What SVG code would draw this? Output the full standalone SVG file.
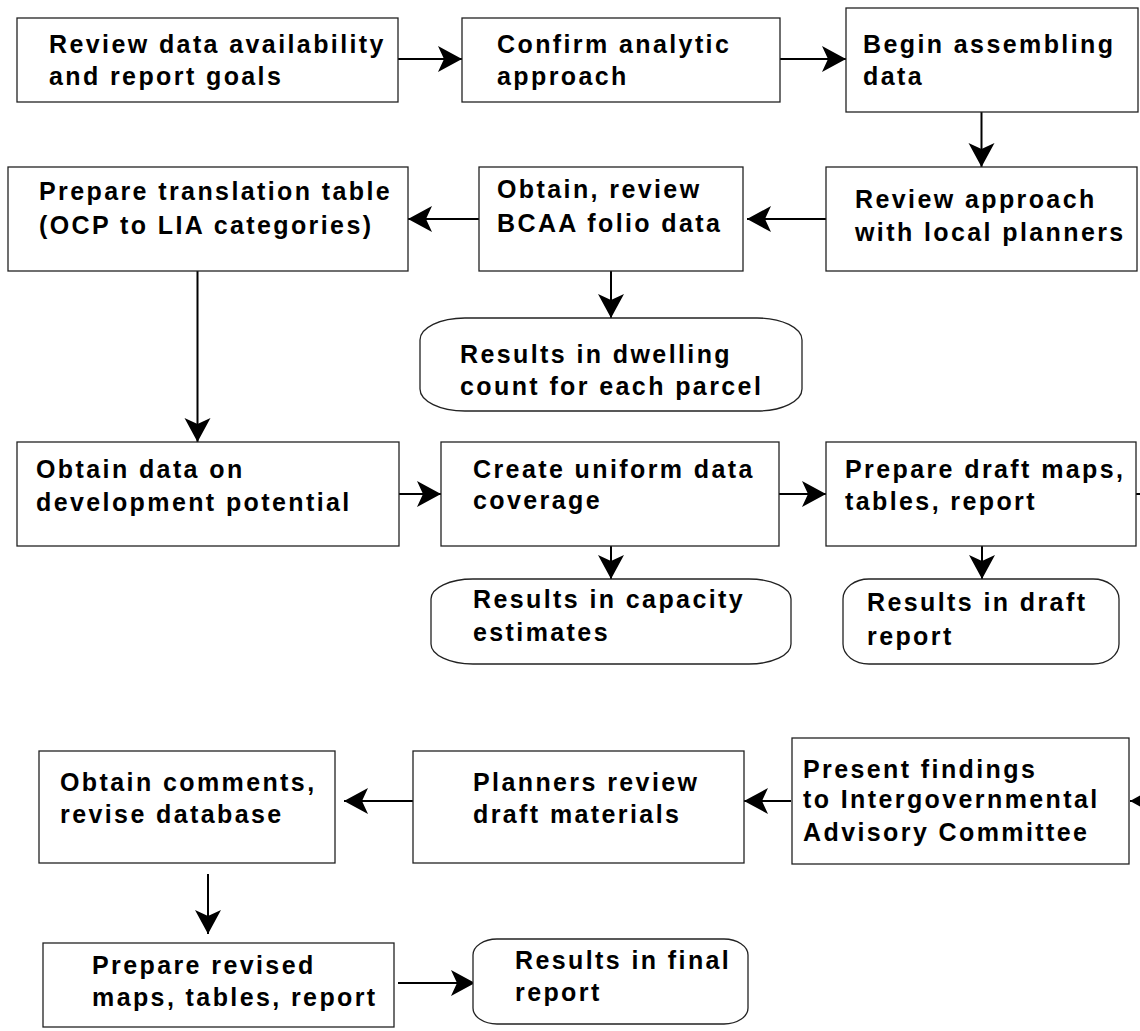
<svg xmlns="http://www.w3.org/2000/svg" width="1140" height="1031" viewBox="0 0 1140 1031">
<style>
.box{fill:#fff;stroke:#222;stroke-width:1.3}
.t{font-family:"Liberation Sans",Arial,sans-serif;font-weight:bold;font-size:25px;letter-spacing:2.4px;fill:#000}
.c{stroke:#000;stroke-width:2;fill:none}
</style>
<defs>
<marker id="ah" markerUnits="userSpaceOnUse" viewBox="-25 -14 26 28" refX="0" refY="0" markerWidth="26" markerHeight="28" orient="auto">
<path d="M0,0 L-24,-13 L-18,0 L-24,13 Z" fill="#000"/>
</marker>
</defs>
<rect width="1140" height="1031" fill="#fff"/>
<g id="connectors">
<line class="c" x1="398" y1="59" x2="462" y2="59" marker-end="url(#ah)"/>
<line class="c" x1="780" y1="59" x2="846" y2="59" marker-end="url(#ah)"/>
<line class="c" x1="981.5" y1="112" x2="981.5" y2="167" marker-end="url(#ah)"/>
<line class="c" x1="826" y1="219" x2="747" y2="219" marker-end="url(#ah)"/>
<line class="c" x1="479" y1="219" x2="408" y2="219" marker-end="url(#ah)"/>
<line class="c" x1="611" y1="271" x2="611" y2="318" marker-end="url(#ah)"/>
<line class="c" x1="197.5" y1="271" x2="197.5" y2="442" marker-end="url(#ah)"/>
<line class="c" x1="399" y1="494" x2="441" y2="494" marker-end="url(#ah)"/>
<line class="c" x1="779" y1="494" x2="826" y2="494" marker-end="url(#ah)"/>
<line class="c" x1="611" y1="546" x2="611" y2="579" marker-end="url(#ah)"/>
<line class="c" x1="982" y1="546" x2="982" y2="579" marker-end="url(#ah)"/>
<line class="c" x1="1136" y1="494" x2="1141" y2="494"/>
<line class="c" x1="1170" y1="801" x2="1130" y2="801" marker-end="url(#ah)"/>
<line class="c" x1="791" y1="801" x2="744" y2="801" marker-end="url(#ah)"/>
<line class="c" x1="413" y1="801" x2="344" y2="801" marker-end="url(#ah)"/>
<line class="c" x1="208" y1="874" x2="208" y2="934" marker-end="url(#ah)"/>
<line class="c" x1="398" y1="983" x2="475" y2="983" marker-end="url(#ah)"/>
</g>
<g id="n1"><rect class="box" x="17" y="18" width="381" height="84"/>
<text class="t" x="49" y="53">Review data availability</text><text class="t" x="49" y="85">and report goals</text></g>
<g id="n2"><rect class="box" x="462" y="18" width="318" height="84"/>
<text class="t" x="497" y="53">Confirm analytic</text><text class="t" x="497" y="85">approach</text></g>
<g id="n3"><rect class="box" x="846" y="8" width="292" height="104"/>
<text class="t" x="863" y="53">Begin assembling</text><text class="t" x="863" y="85">data</text></g>
<g id="n4"><rect class="box" x="826" y="167" width="311" height="104"/>
<text class="t" x="855" y="208">Review approach</text><text class="t" x="855" y="241">with local planners</text></g>
<g id="n5"><rect class="box" x="479" y="167" width="264" height="104"/>
<text class="t" x="497" y="198">Obtain, review</text><text class="t" x="497" y="232">BCAA folio data</text></g>
<g id="n6"><rect class="box" x="8" y="167" width="400" height="104"/>
<text class="t" x="39" y="200">Prepare translation table</text><text class="t" x="39" y="234">(OCP to LIA categories)</text></g>
<g id="n7"><rect class="box" x="420" y="318" width="382" height="93" rx="45" ry="22"/>
<text class="t" x="460" y="363">Results in dwelling</text><text class="t" x="460" y="395">count for each parcel</text></g>
<g id="n8"><rect class="box" x="17" y="442" width="382" height="104"/>
<text class="t" x="36" y="478">Obtain data on</text><text class="t" x="36" y="511">development potential</text></g>
<g id="n9"><rect class="box" x="441" y="442" width="338" height="104"/>
<text class="t" x="473" y="478">Create uniform data</text><text class="t" x="473" y="509">coverage</text></g>
<g id="n10"><rect class="box" x="826" y="442" width="310" height="104"/>
<text class="t" x="845" y="478">Prepare draft maps,</text><text class="t" x="845" y="510">tables, report</text></g>
<g id="n11"><rect class="box" x="431" y="579" width="360" height="85" rx="42" ry="20"/>
<text class="t" x="473" y="608">Results in capacity</text><text class="t" x="473" y="641">estimates</text></g>
<g id="n12"><rect class="box" x="843" y="579" width="276" height="85" rx="26" ry="20"/>
<text class="t" x="867" y="611">Results in draft</text><text class="t" x="867" y="645">report</text></g>
<g id="n13"><rect class="box" x="792" y="738" width="337" height="126"/>
<text class="t" x="803" y="778">Present findings</text><text class="t" x="803" y="808">to Intergovernmental</text><text class="t" x="803" y="841">Advisory Committee</text></g>
<g id="n14"><rect class="box" x="413" y="751" width="331" height="112"/>
<text class="t" x="473" y="791">Planners review</text><text class="t" x="473" y="823">draft materials</text></g>
<g id="n15"><rect class="box" x="39" y="751" width="296" height="112"/>
<text class="t" x="60" y="791">Obtain comments,</text><text class="t" x="60" y="823">revise database</text></g>
<g id="n16"><rect class="box" x="43" y="943" width="351" height="84"/>
<text class="t" x="92" y="974">Prepare revised</text><text class="t" x="92" y="1006">maps, tables, report</text></g>
<g id="n17"><rect class="box" x="473" y="939" width="275" height="85" rx="24" ry="16"/>
<text class="t" x="515" y="969">Results in final</text><text class="t" x="515" y="1001">report</text></g>
</svg>
